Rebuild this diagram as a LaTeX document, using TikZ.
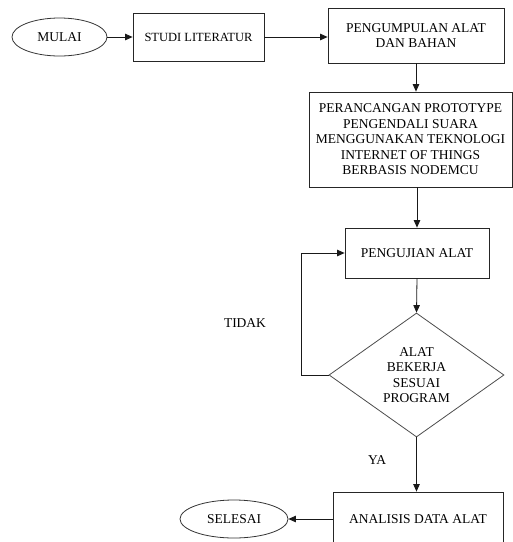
\documentclass[tikz,border=0pt]{standalone}
\usepackage{fontspec}
\setmainfont{Liberation Serif}
\usetikzlibrary{shapes.geometric,arrows.meta}

\begin{document}
\begin{tikzpicture}[x=1pt, y=-1pt,
  line width=0.8pt, >={Triangle[length=7.5pt,width=6.5pt]},
  every node/.style={font=\fontsize{13.5}{15.5}\selectfont, text=black},
  kotak/.style={draw=black!85, rectangle, inner sep=2pt, align=center},
  bulat/.style={draw=black!80, ellipse, inner sep=0pt},
  keputusan/.style={draw=black!70, diamond, aspect=1.4, inner sep=0pt, align=center},
  panah/.style={->, draw=black!90}]
  % ============================================================
  % Ukuran gambar = ukuran referensi (1 satuan = 1 px, y ke bawah)
  % ============================================================
  \def\W{513}
  \def\H{542}
  \useasboundingbox (0,0) rectangle (\W,\H);
  \clip (0,0) rectangle (\W,\H);

  % 1. Baris atas: mulai -> studi -> pengumpulan
  \node[bulat, minimum width=95, minimum height=38] (mulai) at (59.5,37) {MULAI};
  \node[kotak, minimum width=131, minimum height=48, font=\fontsize{12.5}{15}\selectfont]
    (studi) at (198.5,37) {STUDI LITERATUR};
  \node[kotak, minimum width=176, minimum height=55] (kumpul) at (416,35.5)
    {PENGUMPULAN ALAT\\DAN BAHAN};

  % 2. Perancangan prototype
  \node[kotak, minimum width=203, minimum height=95] (rancang) at (410.5,139.5)
    {PERANCANGAN PROTOTYPE\\PENGENDALI SUARA\\MENGGUNAKAN TEKNOLOGI\\INTERNET OF THINGS\\BERBASIS NODEMCU};

  % 3. Pengujian dan keputusan
  \node[kotak, minimum width=144, minimum height=50] (uji) at (417,253) {PENGUJIAN ALAT};
  \node[keputusan, minimum width=175, minimum height=124] (cek) at (416.5,375)
    {ALAT\\BEKERJA\\SESUAI\\PROGRAM};

  % 4. Analisis dan selesai (kotak terpotong di tepi bawah)
  \node[kotak, minimum width=170, minimum height=54] (analisis) at (418,519) {ANALISIS DATA ALAT};
  \node[bulat, minimum width=108, minimum height=38] (selesai) at (234,519) {SELESAI};

  % 5. Label cabang
  \node (tidak) at (245,323) {TIDAK};
  \node (ya) at (377,460) {YA};

  % 6. Panah alur
  \draw[panah] (mulai.east) -- (studi.west);
  \draw[panah] (studi.east) -- (kumpul.west |- studi.east);
  \draw[panah] (kumpul.south) -- (kumpul.south |- rancang.north);
  \draw[panah] (uji.north |- rancang.south) -- (uji.north);
  \draw[panah] (uji.south) -- (cek.north);
  \draw[panah] (cek.west) -- ++(-27,0) |- (uji.west);
  \draw[panah] (cek.south) -- (cek.south |- analisis.north);
  \draw[panah] (analisis.west) -- (selesai.east);
\end{tikzpicture}
\end{document}
